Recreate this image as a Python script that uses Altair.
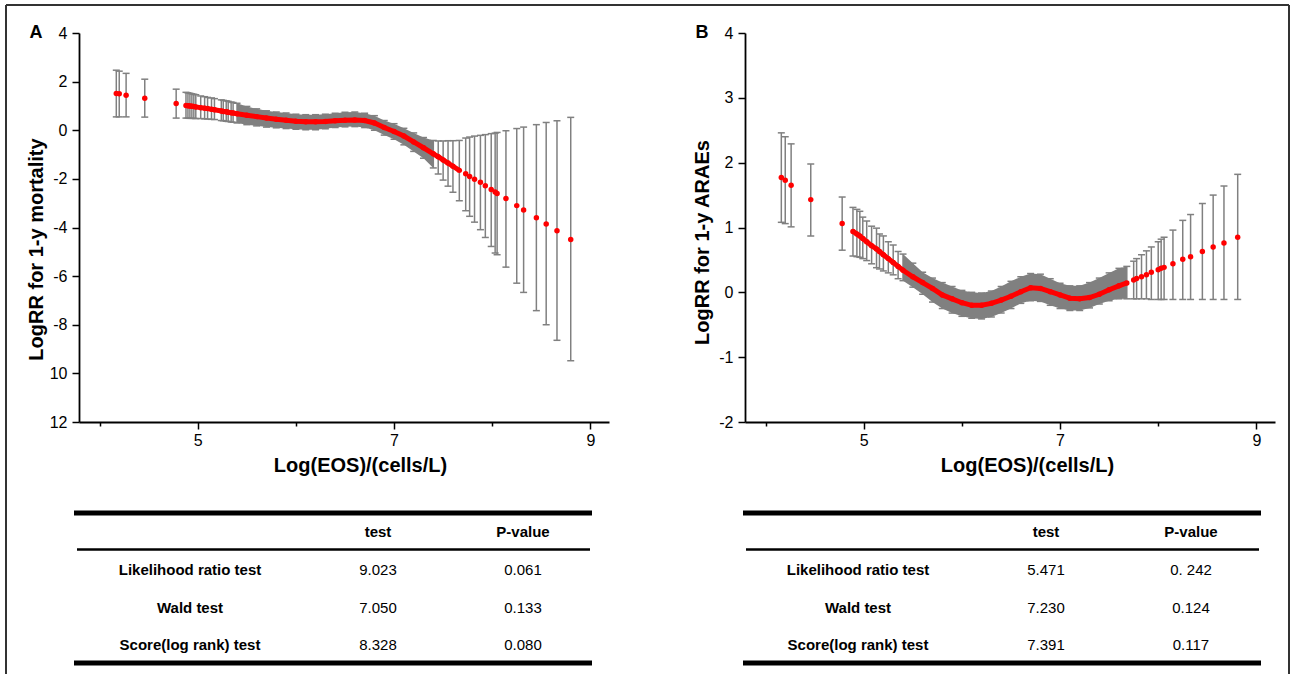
import altair as alt
import pandas as pd

GRAY = "#808080"
RED = "#ff0000"
FONT = "Liberation Sans"

# ---------------- Panel A : LogRR for 1-y mortality ----------------
a_x = [4.17, 4.20, 4.27, 4.46, 4.78,
       4.88, 4.90, 4.92, 4.94, 4.96, 4.98, 5.03, 5.07, 5.10, 5.14, 5.17, 5.24, 5.26, 5.29, 5.31, 5.34, 5.36, 5.40,
       5.50, 5.60, 5.70, 5.80, 5.90, 6.00, 6.10, 6.20, 6.30, 6.40, 6.50, 6.60, 6.70, 6.80, 6.90, 7.00, 7.10, 7.20, 7.30, 7.40,
       7.45, 7.50, 7.55, 7.60,
       7.665, 7.73, 7.77, 7.82, 7.88, 7.93, 7.99, 8.03, 8.05, 8.14, 8.25, 8.32, 8.45, 8.55, 8.66, 8.80]
a_est = [1.51, 1.50, 1.44, 1.32, 1.10,
         1.02, 1.01, 1.00, 0.99, 0.98, 0.96, 0.93, 0.91, 0.89, 0.86, 0.84, 0.79, 0.77, 0.76, 0.74, 0.72, 0.71, 0.68,
         0.62, 0.56, 0.50, 0.45, 0.41, 0.37, 0.35, 0.35, 0.36, 0.39, 0.41, 0.42, 0.40, 0.30, 0.11, -0.05, -0.24, -0.48, -0.72, -0.97,
         -1.09, -1.22, -1.35, -1.48,
         -1.65, -1.79, -1.90, -2.02, -2.14, -2.28, -2.44, -2.54, -2.60, -2.81, -3.10, -3.28, -3.60, -3.86, -4.13, -4.49]
a_lo = [0.55, 0.55, 0.55, 0.54, 0.50,
        0.50, 0.50, 0.49, 0.49, 0.49, 0.48, 0.48, 0.47, 0.46, 0.45, 0.44, 0.40, 0.39, 0.37, 0.36, 0.34, 0.33, 0.30,
        0.23, 0.18, 0.13, 0.10, 0.07, 0.04, 0.02, 0.02, 0.06, 0.11, 0.14, 0.15, 0.11, 0.00, -0.20, -0.37, -0.60, -0.87, -1.15, -1.55,
        -1.80, -2.05, -2.30, -2.55,
        -2.90, -3.31, -3.54, -3.78, -4.09, -4.41, -4.78, -5.05, -5.12, -5.63, -6.29, -6.67, -7.42, -8.00, -8.64, -9.48]
a_hi = [2.47, 2.43, 2.34, 2.10, 1.69,
        1.56, 1.54, 1.52, 1.50, 1.48, 1.46, 1.41, 1.38, 1.35, 1.33, 1.30, 1.25, 1.23, 1.21, 1.19, 1.16, 1.14, 1.11,
        0.98, 0.88, 0.80, 0.75, 0.71, 0.66, 0.64, 0.64, 0.66, 0.70, 0.74, 0.75, 0.70, 0.60, 0.40, 0.27, 0.08, -0.11, -0.30, -0.42,
        -0.44, -0.44, -0.43, -0.43,
        -0.42, -0.32, -0.28, -0.24, -0.21, -0.18, -0.14, -0.12, -0.09, -0.02, 0.07, 0.13, 0.23, 0.32, 0.39, 0.53]

# ---------------- Panel B : LogRR for 1-y ARAEs ----------------
b_x = [4.16, 4.20, 4.26, 4.46, 4.78,
       4.89, 4.93, 4.96, 4.99, 5.03, 5.08, 5.13, 5.16, 5.20, 5.25, 5.30, 5.35, 5.40,
       5.50, 5.60, 5.70, 5.80, 5.90, 6.00, 6.10, 6.20, 6.30, 6.40, 6.50, 6.60, 6.70, 6.80, 6.90, 7.00, 7.10, 7.20,
       7.30, 7.40, 7.50, 7.60, 7.68,
       7.75, 7.78, 7.83, 7.88, 7.93, 8.00, 8.03, 8.06, 8.15, 8.25, 8.33, 8.45, 8.56, 8.67, 8.81]
b_est = [1.77, 1.73, 1.65, 1.43, 1.06,
         0.94, 0.90, 0.87, 0.83, 0.78, 0.72, 0.67, 0.63, 0.58, 0.52, 0.46, 0.40, 0.34,
         0.24, 0.15, 0.06, -0.04, -0.10, -0.16, -0.20, -0.20, -0.17, -0.12, -0.06, 0.01, 0.07, 0.06, 0.01, -0.04, -0.09, -0.10,
         -0.08, -0.03, 0.04, 0.10, 0.145,
         0.19, 0.215, 0.24, 0.27, 0.31, 0.35, 0.37, 0.385, 0.44, 0.51, 0.55, 0.63, 0.70, 0.76, 0.85]
b_lo = [1.08, 1.06, 1.01, 0.87, 0.65,
        0.56, 0.55, 0.54, 0.52, 0.49, 0.44, 0.38, 0.36, 0.33, 0.30, 0.27, 0.21, 0.18,
        0.08, -0.03, -0.15, -0.25, -0.32, -0.37, -0.40, -0.41, -0.38, -0.32, -0.25, -0.17, -0.13, -0.14, -0.20, -0.25, -0.28, -0.28,
        -0.24, -0.18, -0.13, -0.10, -0.10,
        -0.10, -0.10, -0.10, -0.10, -0.11, -0.11, -0.11, -0.11, -0.11, -0.11, -0.11, -0.11, -0.11, -0.11, -0.11]
b_hi = [2.46, 2.40, 2.29, 1.98, 1.47,
        1.31, 1.28, 1.25, 1.16, 1.10, 1.02, 0.99, 0.90, 0.87, 0.78, 0.73, 0.63, 0.59,
        0.45, 0.31, 0.22, 0.15, 0.09, 0.03, 0.00, -0.01, 0.02, 0.09, 0.17, 0.24, 0.29, 0.28, 0.21, 0.14, 0.10, 0.10,
        0.15, 0.22, 0.30, 0.37, 0.40,
        0.48, 0.52, 0.58, 0.64, 0.70, 0.78, 0.82, 0.85, 0.96, 1.11, 1.20, 1.37, 1.50, 1.64, 1.82]

# ---------------- Tables ----------------
row_labels = ["Likelihood ratio test", "Wald test", "Score(log rank) test"]
col_headers = ["", "test", "P-value"]
a_test = ["9.023", "7.050", "8.328"]
a_pval = ["0.061", "0.133", "0.080"]
b_test = ["5.471", "7.230", "7.391"]
b_pval = ["0. 242", "0.124", "0.117"]

X_TICKS = [4, 5, 6, 7, 8, 9]
A_YTICKS = list(range(-12, 5))
B_YTICKS = [v / 2 for v in range(-4, 9)]
PW, PH = 530, 389
TW, TH = 530, 170

one = pd.DataFrame({"k": [0]})


def axis_common():
    return dict(domainColor="black", domainWidth=1.8, tickColor="black", tickWidth=1.5,
                labelFont=FONT, labelFontSize=16, labelColor="black", grid=False,
                titleFont=FONT, titleFontSize=20, titleFontWeight="bold", titleColor="black",
                labelOverlap=False, labelFlush=False)


def make_plot(xs, est, lo, hi, band, line, ydom, yvals, ymajor, ylabel, ytitle, ytitle_y, letter, xtitle_x):
    df = pd.DataFrame({"x": xs, "est": est, "lo": lo, "hi": hi})
    base = alt.Chart(df)
    xsc = alt.Scale(domain=[3.79, 9.19], nice=False, zero=False)
    ysc = alt.Scale(domain=ydom, nice=False, zero=False)
    xaxis = alt.Axis(values=X_TICKS,
                     labelExpr="datum.value % 2 == 1 ? '' + datum.value : ''",
                     tickSize={"condition": {"test": "datum.value % 2 == 1", "value": 7}, "value": 4},
                     labelPadding=3, title="Log(EOS)/(cells/L)", titleX=xtitle_x, titleY=49,
                     titleAlign="center", titleBaseline="alphabetic", **axis_common())
    yaxis = alt.Axis(values=yvals, labelExpr=ylabel,
                     tickSize={"condition": {"test": ymajor, "value": 7}, "value": 4},
                     labelPadding=5, title=ytitle, titleX=-37, titleY=ytitle_y, titleAngle=270,
                     titleAlign="center", titleBaseline="alphabetic", **axis_common())
    X = alt.X("x:Q", scale=xsc, axis=xaxis)
    bandc = base.transform_filter(f"datum.x >= {band[0]} && datum.x <= {band[1]}").mark_area(
        color=GRAY, opacity=1).encode(x=X, y=alt.Y("lo:Q", scale=ysc, axis=yaxis), y2="hi:Q")
    bars = base.mark_rule(color=GRAY, strokeWidth=1.5).encode(x="x:Q", y="lo:Q", y2="hi:Q")
    cap_lo = base.mark_tick(color=GRAY, orient="horizontal", size=7, thickness=1.5, opacity=1).encode(x="x:Q", y="lo:Q")
    cap_hi = base.mark_tick(color=GRAY, orient="horizontal", size=7, thickness=1.5, opacity=1).encode(x="x:Q", y="hi:Q")
    curve = base.transform_filter(f"datum.x >= {line[0]} && datum.x <= {line[1]}").mark_line(
        color=RED, strokeWidth=5).encode(x="x:Q", y="est:Q")
    dots = base.mark_circle(color=RED, size=30, opacity=1).encode(x="x:Q", y="est:Q")
    lab = alt.Chart(one).mark_text(text=letter, font=FONT, fontSize=18, fontWeight="bold",
                                   align="center", baseline="middle", color="black").encode(
        x=alt.value(-43), y=alt.value(0))
    return [bandc, bars, cap_lo, cap_hi, curve, dots, lab]


def make_table(tests, pvals, cols, spans):
    recs = []
    for c, h in enumerate(col_headers):
        if h:
            recs.append({"c": c, "r": 0, "t": h, "b": 1})
    for i, lbl in enumerate(row_labels):
        recs.append({"c": 0, "r": i + 1, "t": lbl, "b": 1})
        recs.append({"c": 1, "r": i + 1, "t": tests[i], "b": 0})
        recs.append({"c": 2, "r": i + 1, "t": pvals[i], "b": 0})
    df = pd.DataFrame(recs)
    X = alt.X("c:Q", scale=alt.Scale(domain=[0, 1, 2], range=cols), axis=None)
    Y = alt.Y("r:Q", scale=alt.Scale(domain=[0, 1, 2, 3], range=[32, 70, 107.5, 144.5]), axis=None)
    bold = alt.Chart(df).transform_filter("datum.b == 1").mark_text(
        font=FONT, fontSize=15, fontWeight="bold", color="black", baseline="middle").encode(x=X, y=Y, text="t:N")
    norm = alt.Chart(df).transform_filter("datum.b == 0").mark_text(
        font=FONT, fontSize=15, color="black", baseline="middle").encode(x="c:Q", y="r:Q", text="t:N")
    (t0, t1), (h0, h1) = spans
    top = alt.Chart(one).mark_rule(color="black", strokeWidth=5).encode(
        x=alt.value(t0), x2=alt.value(t1), y=alt.value(13))
    mid = alt.Chart(one).mark_rule(color="black", strokeWidth=2.5).encode(
        x=alt.value(h0), x2=alt.value(h1), y=alt.value(49.5))
    bot = alt.Chart(one).mark_rule(color="black", strokeWidth=5).encode(
        x=alt.value(t0), x2=alt.value(t1), y=alt.value(163))
    return alt.layer(bold, norm, top, mid, bot).properties(width=TW, height=TH)


# frame around the whole figure (drawn from panel A's origin)
frame_col = "#333333"
f_left = alt.Chart(one).mark_rule(color=frame_col, strokeWidth=2).encode(
    x=alt.value(-73), y=alt.value(-28), y2=alt.value(641))
f_top = alt.Chart(one).mark_rule(color=frame_col, strokeWidth=2).encode(
    x=alt.value(-73), x2=alt.value(1210), y=alt.value(-28))
f_right = alt.Chart(one).mark_rule(color=frame_col, strokeWidth=2).encode(
    x=alt.value(1210), y=alt.value(-28), y2=alt.value(641))

a_layers = make_plot(a_x, a_est, a_lo, a_hi, (5.40, 7.40), (4.88, 7.665), [-12, 4], A_YTICKS,
                     "datum.value % 2 == 0",
                     "datum.value % 2 == 0 ? (datum.value < -9 ? '' + abs(datum.value) : '' + datum.value) : ''",
                     "LogRR for 1-y mortality", 216, "A", 281)
plotA = alt.layer(*a_layers, f_left, f_top, f_right).properties(width=PW, height=PH)

b_layers = make_plot(b_x, b_est, b_lo, b_hi, (5.40, 7.68), (4.89, 7.68), [-2, 4], B_YTICKS,
                     "datum.value % 1 == 0",
                     "datum.value % 1 == 0 ? '' + datum.value : ''",
                     "LogRR for 1-y ARAEs", 209, "B", 282)
plotB = alt.layer(*b_layers).properties(width=PW, height=PH)

tableA = make_table(a_test, a_pval, [111, 299, 444], ((-5, 513), (-2, 511)))
tableB = make_table(b_test, b_pval, [113, 301, 446], ((-2, 516), (1, 514)))

chart = alt.concat(plotA, plotB, tableA, tableB, columns=2, bounds="flush", align="each",
                   spacing={"row": 78, "column": 136}).configure_view(stroke=None).properties(
    padding={"left": 5, "top": 4, "right": 3, "bottom": 0}, background="white")

chart.save("out.html", embed_options={"renderer": "svg", "actions": False})
